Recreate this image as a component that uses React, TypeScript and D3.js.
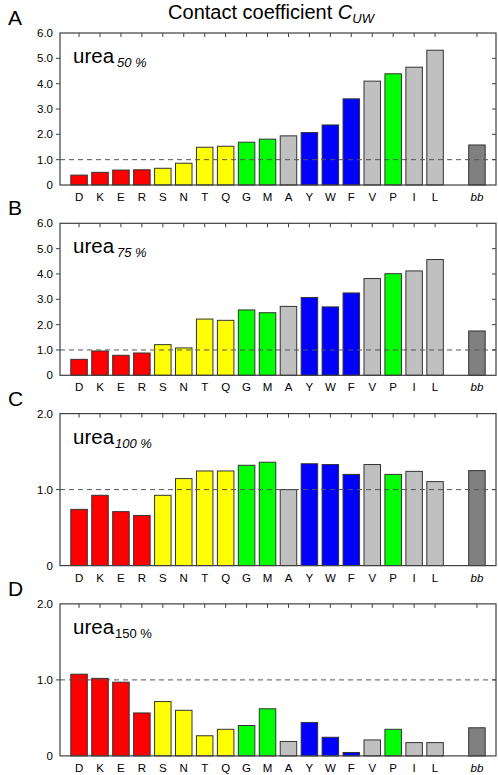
import React from "react";
import * as d3 from "d3";

const categories = ["D", "K", "E", "R", "S", "N", "T", "Q", "G", "M", "A", "Y", "W", "F", "V", "P", "I", "L", "", "bb"];
const groupOf = ["red", "red", "red", "red", "yellow", "yellow", "yellow", "yellow", "green", "green", "gray", "blue", "blue", "blue", "gray", "green", "gray", "gray", "none", "bb"];
const urea50 = [0.39, 0.5, 0.59, 0.6, 0.66, 0.86, 1.49, 1.53, 1.69, 1.81, 1.94, 2.07, 2.37, 3.4, 4.1, 4.39, 4.65, 5.32, null, 1.58];
const urea75 = [0.63, 0.96, 0.79, 0.88, 1.21, 1.08, 2.22, 2.17, 2.58, 2.47, 2.72, 3.07, 2.7, 3.25, 3.82, 4.01, 4.12, 4.57, null, 1.75];
const urea100 = [0.74, 0.925, 0.71, 0.66, 0.925, 1.145, 1.245, 1.245, 1.32, 1.36, 1.0, 1.34, 1.33, 1.2, 1.33, 1.2, 1.24, 1.105, null, 1.25];
const urea150 = [1.075, 1.02, 0.97, 0.565, 0.715, 0.6, 0.265, 0.35, 0.4, 0.62, 0.19, 0.44, 0.245, 0.045, 0.21, 0.35, 0.175, 0.175, null, 0.37];
const panelLetters = ["A", "B", "C", "D"];
const panelSubs = ["50 %", "75 %", "100 %", "150 %"];
const panelMax = [6, 6, 2, 2];
const ticks6 = [0, 1, 2, 3, 4, 5, 6];
const ticks2 = [0, 1, 2];

const colorMap: Record<string, string> = {
  red: "#ff0000",
  yellow: "#ffff00",
  green: "#00ff00",
  blue: "#0000ff",
  gray: "#c0c0c0",
  bb: "#808080",
  none: "none",
};

const FONT = "'Liberation Sans', Arial, Helvetica, sans-serif";
const W = 498;
const H = 775;
const left = 60;
const right = 496;
const panelH = 152;
const panelStep = 190.3;
const firstTop = 33;

function Panel({ idx, values }: { idx: number; values: (number | null)[] }) {
  const top = firstTop + idx * panelStep;
  const bottom = top + panelH;
  const max = panelMax[idx];
  const y = d3.scaleLinear().domain([0, max]).range([bottom, top]);
  const pad = 0.91;
  const keys = categories.map((c, i) => c || "gap" + i);
  const x = d3.scalePoint<string>().domain(keys).range([left, right]).padding(pad);
  const bw = 16.5;
  const tickVals = max === 6 ? ticks6 : ticks2;
  const axisColor = "#404040";
  return (
    <g>
      <text x={8} y={top - 8} fontFamily={FONT} fontSize={21} fill="#000">
        {panelLetters[idx]}
      </text>
      {values.map((v, i) =>
        v == null ? null : (
          <rect
            key={i}
            x={(x(keys[i]) as number) - bw / 2}
            y={y(v)}
            width={bw}
            height={bottom - y(v)}
            fill={colorMap[groupOf[i]]}
            stroke="#333"
            strokeWidth={1}
          />
        )
      )}
      <line x1={left} x2={right} y1={y(1)} y2={y(1)} stroke="#555" strokeWidth={1} strokeDasharray="5,4" />
      <rect x={left} y={top} width={right - left} height={panelH} fill="none" stroke={axisColor} strokeWidth={1.2} />
      {keys.map((k, i) =>
        categories[i] ? (
          <line key={"tt" + i} x1={x(k)} x2={x(k)} y1={top} y2={top + 4} stroke={axisColor} strokeWidth={1} />
        ) : null
      )}
      {tickVals
        .filter((t) => t > 0 && t < max)
        .map((t) => (
          <line key={"rt" + t} x1={right - 4} x2={right} y1={y(t)} y2={y(t)} stroke={axisColor} strokeWidth={1} />
        ))}
      {tickVals.map((t) => (
        <g key={"lt" + t}>
          {t > 0 && t < max ? (
            <line x1={left - 4} x2={left} y1={y(t)} y2={y(t)} stroke={axisColor} strokeWidth={1} />
          ) : null}
          <text x={53} y={y(t) + 4} textAnchor="end" fontFamily={FONT} fontSize={11.5} fill="#000">
            {t === 0 ? "0" : d3.format(".1f")(t)}
          </text>
        </g>
      ))}
      {keys.map((k, i) =>
        categories[i] ? (
          <text
            key={"cl" + i}
            x={x(k)}
            y={bottom + 16}
            textAnchor="middle"
            fontFamily={FONT}
            fontSize={11.5}
            fontStyle={categories[i] === "bb" ? "italic" : "normal"}
            fill="#000"
          >
            {categories[i]}
          </text>
        ) : null
      )}
      <text x={73} y={top + 30} fontFamily={FONT} fontSize={20.5} fill="#000">
        urea
        <tspan dx={idx === 2 || idx === 3 ? 1 : 3} dy={4} fontSize={13} fontStyle={idx === 3 ? "normal" : "italic"}>
          {panelSubs[idx]}
        </tspan>
      </text>
    </g>
  );
}

export default function App() {
  const series = [urea50, urea75, urea100, urea150];
  return (
    <svg width={W} height={H} style={{ position: "absolute", left: 0, top: 0, background: "#fff" }}>
      <rect x={0} y={0} width={W} height={H} fill="#fff" />
      <text x={271} y={19} textAnchor="middle" fontFamily={FONT} fontSize={20} fill="#000">
        Contact coefficient{" "}
        <tspan fontStyle="italic">C</tspan>
        <tspan fontStyle="italic" fontSize={13} dy={4}>
          UW
        </tspan>
      </text>
      {series.map((s, i) => (
        <Panel key={i} idx={i} values={s} />
      ))}
    </svg>
  );
}
